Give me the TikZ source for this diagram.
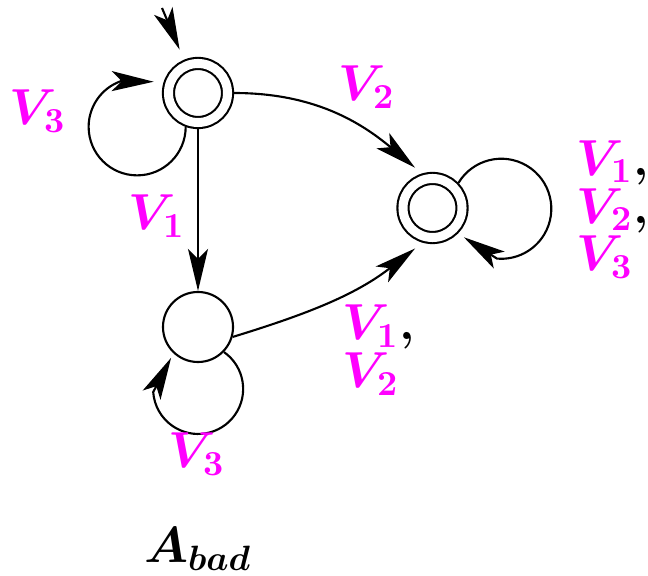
\documentclass[tikz,border=0pt]{standalone}
\usetikzlibrary{arrows.meta, positioning, calc}
\definecolor{vmag}{RGB}{255,0,255}
\tikzset{
  stnode/.style  = {draw, circle, line width=0.6pt, minimum size=0.7cm, inner sep=0pt},
  accnode/.style = {stnode, double, double distance=0.09cm,
                    minimum size=0.59cm, outer sep=0.065cm},
  arr/.style     = {-{Stealth[length=0.42cm, width=0.2cm, inset=0.1cm]}, line width=0.6pt},
  lbl/.style     = {font=\fontsize{14}{13.6}\selectfont\boldmath, inner sep=0pt, align=left},
  ttl/.style     = {font=\fontsize{14.6}{16}\selectfont\boldmath, inner sep=0pt}
}
\newcommand{\vlab}[1]{\textcolor{vmag}{$V_{#1}$}}

\begin{document}
\begin{tikzpicture}[x=0.01cm, y=0.01cm]
  \useasboundingbox (0,0) rectangle (648,-576);

  % ── States ────────────────────────────────────────────────────────────────
  \node[accnode] (Q0) at (198,-93)  {};   % start, accepting
  \node[stnode]  (Q1) at (198,-327) {};
  \node[accnode] (Q2) at (432.5,-208) {}; % accepting sink

  % ── I/O ───────────────────────────────────────────────────────────────────
  \coordinate (Init) at (162,-8);

  % ── Transitions ───────────────────────────────────────────────────────────
  \draw[arr, shorten >=0.11cm] (Init) -- (Q0);

  % Q0 → Q2 and Q0 → Q1
  \draw[arr, shorten >=0.09cm] (Q0.east) to[out=0, in=140] (Q2.107);
  \draw[arr] (Q0) -- (Q1);

  % Q1 → Q2
  \draw[arr, shorten >=0.095cm] (Q1.-16) to[out=17, in=218] (Q2.254);

  % Self loops
  \draw[arr, shorten >=0.1cm]  (Q0.250) arc[start angle=0, end angle=-250, radius=0.485cm] -- (Q0.162);
  \draw[arr, shorten >=0.07cm] (Q2.44)  arc[start angle=149, end angle=-95, radius=0.5cm] -- (Q2.-45);
  \draw[arr, shorten >=0.05cm] (Q1.-44) arc[start angle=55, end angle=-176, radius=0.45cm] -- (Q1.-133);

  % ── Labels ────────────────────────────────────────────────────────────────
  \node[lbl] (LoopA) at (38,-111)  {\vlab{3}};
  \node[lbl] (TopR)  at (367,-87)  {\vlab{2}};
  \node[lbl] (Down)  at (157,-216) {\vlab{1}};
  \node[lbl] (LoopB) at (197,-454) {\vlab{3}};
  \node[lbl, anchor=west] (BotR)  at (342,-350)   {\vlab{1}\textbf{,}\\\vlab{2}};
  \node[lbl, anchor=west] (LoopC) at (576,-209.5) {\vlab{1}\textbf{,}\\\vlab{2}\textbf{,}\\\vlab{3}};

  \node[ttl] (Name) at (198,-549) {$A_{bad}$};

\end{tikzpicture}
\end{document}
